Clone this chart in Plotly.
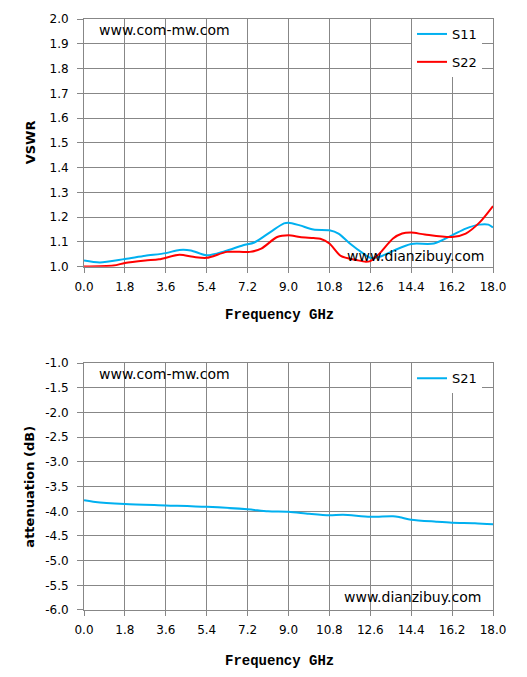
import plotly.graph_objects as go

# ---- data ----
s11_freq = [0, 0.7, 1.8, 2.7, 3.6, 4.2, 4.7, 5.4, 6.2, 7.0, 7.5, 8.2, 8.8, 9.0, 9.5, 10.1,
            10.8, 11.2, 11.7, 12.3, 12.6, 13.0, 13.6, 14.4, 15.4, 16.2, 16.8, 17.4, 17.8, 18.0]
s11_vswr = [1.025, 1.017, 1.031, 1.044, 1.055, 1.068, 1.066, 1.046, 1.063, 1.087, 1.098, 1.14,
            1.175, 1.178, 1.167, 1.15, 1.147, 1.134, 1.094, 1.053, 1.036, 1.04, 1.064, 1.092,
            1.094, 1.127, 1.154, 1.17, 1.17, 1.158]

s22_freq = [0, 1.3, 1.8, 2.7, 3.3, 4.2, 4.8, 5.4, 6.3, 7.3, 7.8, 8.5, 9.0, 9.5, 10.1, 10.4,
            10.8, 11.3, 12.0, 12.4, 12.6, 13.0, 13.6, 14.0, 14.4, 15.0, 16.2, 16.8, 17.4, 18.0]
s22_vswr = [1.001, 1.005, 1.015, 1.025, 1.03, 1.048, 1.04, 1.036, 1.06, 1.06, 1.073, 1.12,
            1.127, 1.12, 1.116, 1.113, 1.094, 1.044, 1.027, 1.02, 1.023, 1.053, 1.114, 1.134,
            1.138, 1.13, 1.12, 1.134, 1.178, 1.245]

s21_freq = [0, 0.5, 1.8, 3.6, 5.4, 7.2, 8.1, 9.0, 9.9, 10.8, 11.4, 12.6, 13.6, 13.9, 14.4,
            15.5, 16.2, 17.2, 18.0]
s21_att = [-3.774, -3.81, -3.85, -3.88, -3.91, -3.96, -4.0, -4.01, -4.05, -4.08, -4.07, -4.11,
           -4.10, -4.12, -4.17, -4.21, -4.23, -4.24, -4.26]

x_ticks = [0.0, 1.8, 3.6, 5.4, 7.2, 9.0, 10.8, 12.6, 14.4, 16.2, 18.0]
att_ticks = [-1.0, -1.5, -2.0, -2.5, -3.0, -3.5, -4.0, -4.5, -5.0, -5.5, -6.0]
att_labels = ["-1.0", "-1.5", "-2.0", "-2.5", "-3.0", "-3.5", "-4.0", "-4.5", "-5.0", "-5.5", "-6.0"]

BLUE = "#00B0F0"
RED = "#FF0000"
GRID = "#878787"
TICKFONT = dict(family="DejaVu Sans", size=12, color="#000000")

fig = go.Figure()
fig.add_trace(go.Scatter(x=s11_freq, y=s11_vswr, name="S11", mode="lines",
                         line=dict(color=BLUE, width=2, shape="spline", smoothing=0.8),
                         xaxis="x", yaxis="y", legend="legend", legendgroup="a"))
fig.add_trace(go.Scatter(x=s22_freq, y=s22_vswr, name="S22", mode="lines",
                         line=dict(color=RED, width=2, shape="spline", smoothing=0.8),
                         xaxis="x", yaxis="y", legend="legend", legendgroup="b"))
fig.add_trace(go.Scatter(x=s21_freq, y=s21_att, name="S21", mode="lines",
                         line=dict(color=BLUE, width=2, shape="spline", smoothing=0.8),
                         xaxis="x2", yaxis="y2", legend="legend2"))

xcommon = dict(range=[0, 18], tickvals=x_ticks, tickformat=".1f", showgrid=True,
               gridcolor=GRID, gridwidth=1, showline=True, linecolor=GRID, mirror=True,
               ticks="outside", ticklen=5, tickcolor=GRID, tickfont=TICKFONT,
               ticklabelstandoff=4, zeroline=False, fixedrange=True)
ycommon = dict(showgrid=True, gridcolor=GRID, gridwidth=1, showline=True, linecolor=GRID,
               mirror=True, ticks="outside", ticklen=6, tickcolor=GRID, tickfont=TICKFONT,
               ticklabelstandoff=6, zeroline=False, fixedrange=True)

fig.update_layout(
    width=527, height=677,
    margin=dict(l=84, r=34, t=16, b=67),
    paper_bgcolor="white", plot_bgcolor="white",
    xaxis=dict(domain=[0, 1], anchor="y", **xcommon),
    yaxis=dict(domain=[0.5808, 1], anchor="x", range=[1.0, 2.0], dtick=0.1,
               tickformat=".1f", **ycommon),
    xaxis2=dict(domain=[0, 1], anchor="y2", **xcommon),
    yaxis2=dict(domain=[0, 0.4175], anchor="x2", range=[-6.0, -1.0],
                tickvals=att_ticks, ticktext=att_labels, **ycommon),
    legend=dict(x=0.802, y=1.0, xanchor="left", yanchor="top", bgcolor="white",
                font=dict(family="DejaVu Sans", size=13, color="#000"),
                tracegroupgap=8, traceorder="grouped"),
    legend2=dict(x=0.802, y=0.4175, xanchor="left", yanchor="top", bgcolor="white",
                 font=dict(family="DejaVu Sans", size=13, color="#000")),
    showlegend=True,
)

ann_font = dict(family="DejaVu Sans", size=14, color="#000")
title_font = dict(family="DejaVu Sans", size=13, color="#000")
mono = dict(family="Liberation Mono", size=14, color="#000")


def px_x(px):
    return (px - 84) / 409


def px_y(py):
    return (610 - py) / 594


annotations = [
    dict(text="www.com-mw.com", x=px_x(97), y=px_y(27), xanchor="left", yanchor="middle", font=ann_font),
    dict(text="www.dianzibuy.com", x=px_x(345), y=px_y(254), xanchor="left", yanchor="middle", font=ann_font),
    dict(text="www.com-mw.com", x=px_x(97), y=px_y(373), xanchor="left", yanchor="middle", font=ann_font),
    dict(text="www.dianzibuy.com", x=px_x(342), y=px_y(597), xanchor="left", yanchor="middle", font=ann_font),
    dict(text="<b>VSWR</b>", x=px_x(30), y=px_y(140), textangle=-90, xanchor="center", yanchor="middle", font=title_font),
    dict(text="<b>attenuation (dB)</b>", x=px_x(30), y=px_y(486), textangle=-90, xanchor="center", yanchor="middle", font=title_font),
    dict(text="<b>Frequency GHz</b>", x=px_x(279), y=px_y(313), xanchor="center", yanchor="middle", font=mono),
    dict(text="<b>Frequency GHz</b>", x=px_x(279), y=px_y(661), xanchor="center", yanchor="middle", font=mono),
]
for a in annotations:
    a.update(xref="paper", yref="paper", showarrow=False)
fig.update_layout(annotations=annotations)

# remove the default page margin so the figure sits at the window's top-left corner
fig.write_html("out.html",
               config={"displayModeBar": False},
               post_script="document.body.style.margin='0';document.body.style.overflow='hidden';")
